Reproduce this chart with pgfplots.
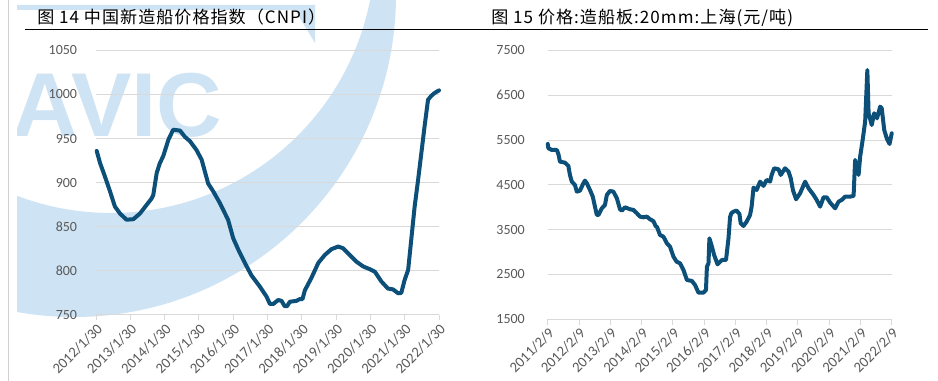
\documentclass[border=0pt]{standalone}
\usepackage{fontspec}
\setmainfont{Carlito}
\newfontfamily\cjk[LetterSpace=6]{Noto Sans CJK SC}
\newfontfamily\wm{Liberation Sans}
\usepackage{pgfplots}
\pgfplotsset{compat=1.18}
\definecolor{lineblue}{RGB}{12,80,122}
\definecolor{wmblue}{RGB}{206,227,243}
\definecolor{gridgray}{RGB}{217,217,217}
\definecolor{labgray}{RGB}{89,89,89}
\pgfplotsset{mystyle/.style={scale only axis,
  axis x line*=bottom, axis y line*=left,
  y axis line style={draw=none}, x axis line style={gridgray, line width=0.75pt},
  ytick style={draw=none}, xtick style={gridgray, line width=0.75pt},
  tick align=outside, major tick length=4pt,
  ymajorgrids, grid style={gridgray, line width=0.75pt},
  tick label style={font=\fontsize{10.5}{12}\selectfont, color=labgray},
  yticklabel style={anchor=east, inner sep=0pt},
  xticklabel style={rotate=45, anchor=north east, inner sep=1pt, font=\fontsize{11}{12}\selectfont},
  scaled ticks=false, /pgf/number format/1000 sep={},
  /pgf/number format/assume math mode=true, clip=false}}
\begin{document}
\begin{tikzpicture}
\begin{scope}[shift={(0pt,285.75pt)}, x=0.75pt, y=-0.75pt]
\useasboundingbox (0,0) rectangle (938,381);
\fill[white] (0,0) rectangle (938,381);
\begin{scope}
\clip (17,0) rectangle (470,330);
\fill[wmblue, even odd rule] (74,-5) circle[radius=241.5pt] (111,-51) circle[radius=198pt];
\node[anchor=base west, inner sep=0, text=wmblue, font=\wm\bfseries\fontsize{68}{68}\selectfont] at (12,137) {AVIC};
\fill[wmblue] (17,5) -- (315,5) -- (315,43) -- (295,10) -- (17,10) -- cycle;
\end{scope}
\draw[gray!35, line width=0.75pt] (8,0) -- (8,381);
\draw[black, line width=1.3pt] (25,29.5) -- (928,29.5);
\node[anchor=base west, inner sep=0, font=\cjk\fontsize{12.8}{14}\selectfont] at (37,24) {图 14 中国新造船价格指数（CNPI）};
\node[anchor=base west, inner sep=0, font=\cjk\fontsize{12.8}{14}\selectfont] at (491,24) {图 15 价格:造船板:20mm:上海(元/吨)};
\end{scope}

\begin{axis}[mystyle, at={(72pt,49.5pt)}, anchor=south west,
  width=257.25pt, height=198.5pt,
  xmin=0, xmax=10, ymin=750, ymax=1050,
  ytick={750,800,...,1050},
  yticklabel style={xshift=-10pt},
  xtick={0,...,10},
  xticklabels={2012/1/30,2013/1/30,2014/1/30,2015/1/30,2016/1/30,2017/1/30,2018/1/30,2019/1/30,2020/1/30,2021/1/30,2022/1/30}]
\addplot[lineblue, line width=3pt, line join=round, line cap=round] coordinates {
(0.02,936) (0.12,922) (0.26,907) (0.41,890) (0.55,873) (0.70,865) (0.89,858) (1.09,858.6)
(1.28,865) (1.52,877) (1.62,882) (1.67,886) (1.77,911) (1.86,922) (1.96,930) (2.11,948.6)
(2.25,960) (2.45,959) (2.59,952) (2.74,947) (2.93,937) (3.08,926) (3.27,899) (3.42,890)
(3.61,877) (3.85,858) (4.00,837) (4.15,824) (4.34,809) (4.53,795) (4.78,782) (4.97,771)
(5.07,762.5) (5.17,762.5) (5.31,767) (5.41,766) (5.50,760) (5.57,760) (5.65,765) (5.84,766)
(5.94,768) (6.02,768) (6.09,778) (6.28,792) (6.48,809) (6.67,818) (6.86,824.5) (7.06,827.6)
(7.20,825.7) (7.40,818) (7.59,810.5) (7.79,805) (7.98,802) (8.13,799) (8.32,788) (8.51,780)
(8.66,779) (8.81,774.6) (8.90,775) (9.00,790) (9.10,801) (9.19,835) (9.29,873) (9.39,903)
(9.49,935) (9.58,964) (9.68,994) (9.78,998.6) (9.87,1001.6) (10.0,1004.6)
};
\end{axis}

\begin{axis}[mystyle, at={(410.8pt,46.3pt)}, anchor=south west,
  width=258pt, height=201.6pt,
  xmin=0, xmax=11, ymin=1500, ymax=7500,
  ytick={1500,2500,...,7500},
  yticklabel style={xshift=-13pt},
  xtick={0,...,11},
  xticklabels={2011/2/9,2012/2/9,2013/2/9,2014/2/9,2015/2/9,2016/2/9,2017/2/9,2018/2/9,2019/2/9,2020/2/9,2021/2/9,2022/2/9}]
\addplot[lineblue, line width=3pt, line join=round, line cap=round] coordinates {
(0,5413) (0.02,5316) (0.13,5279) (0.29,5279) (0.34,5190) (0.39,5019) (0.55,4996) (0.66,4922)
(0.71,4721) (0.77,4572) (0.87,4498) (0.93,4349) (1.03,4371) (1.14,4535) (1.19,4595) (1.25,4535)
(1.35,4386) (1.44,4238) (1.51,4014) (1.57,3828) (1.62,3828) (1.73,3977) (1.83,4051) (1.89,4275)
(1.99,4364) (2.10,4349) (2.21,4200) (2.31,3955) (2.37,3925) (2.47,3999) (2.63,3955) (2.74,3940)
(2.85,3866) (2.95,3791) (3.06,3776) (3.17,3791) (3.27,3732) (3.38,3690) (3.46,3568) (3.49,3567)
(3.59,3381) (3.70,3344) (3.81,3195) (3.91,3121) (4.02,2898) (4.12,2786) (4.23,2749) (4.34,2600)
(4.45,2377) (4.61,2355) (4.71,2265) (4.82,2094) (4.98,2094) (5.06,2154) (5.09,2674) (5.14,2749)
(5.17,3307) (5.25,3121) (5.32,2935) (5.43,2726) (5.57,2823) (5.70,2823) (5.78,3307) (5.83,3780)
(5.87,3866) (5.94,3903) (6.04,3925) (6.13,3851) (6.17,3642) (6.26,3583) (6.36,3679) (6.47,3828)
(6.52,4014) (6.58,4438) (6.68,4386) (6.79,4572) (6.90,4476) (7.00,4610) (7.11,4572) (7.16,4721)
(7.24,4870) (7.38,4848) (7.45,4721) (7.59,4870) (7.70,4796) (7.77,4647) (7.84,4386) (7.94,4178)
(8.07,4312) (8.23,4572) (8.34,4424) (8.50,4275) (8.60,4163) (8.71,4014) (8.82,4223) (8.92,4223)
(9.03,4104) (9.19,3977) (9.30,4126) (9.40,4163) (9.51,4238) (9.67,4238) (9.78,4253) (9.83,5056)
(9.94,4721) (9.99,5130) (10.07,5502) (10.15,5912) (10.22,7065) (10.26,6098) (10.36,5837) (10.44,6098)
(10.53,5986) (10.63,6246) (10.68,6209) (10.76,5726) (10.84,5540) (10.93,5413) (11.0,5651)
};
\end{axis}
\end{tikzpicture}
\end{document}
